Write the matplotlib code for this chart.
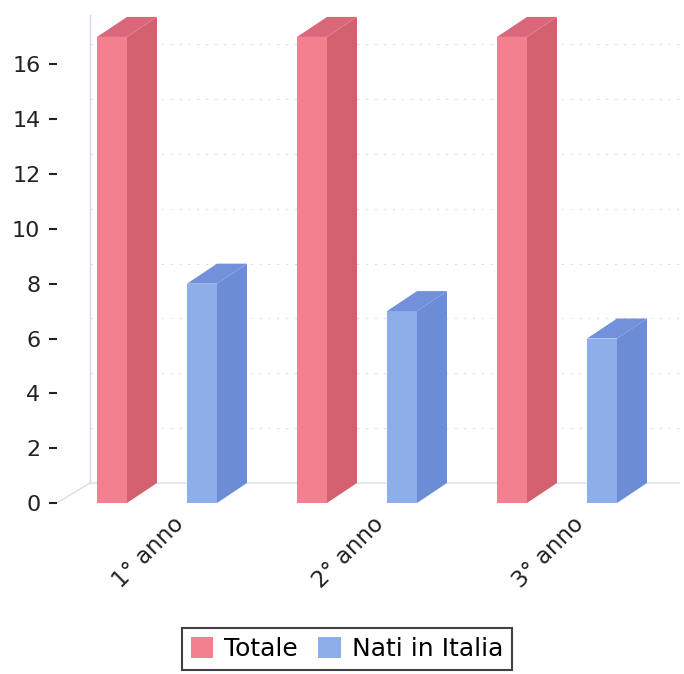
import matplotlib.pyplot as plt
from matplotlib.patches import Polygon

CATEGORIES = ["1° anno", "2° anno", "3° anno"]
SERIES = ["Totale", "Nati in Italia"]
TOTALE = [17, 17, 17]
NATI_IN_ITALIA = [8, 7, 6]

# front, side, top shades per series
COLORS = {
    "Totale": ("#f2808f", "#d3606f", "#d8687a"),
    "Nati in Italia": ("#8eaeea", "#6b8dd6", "#7291da"),
}

BAR_W = 0.15       # front face width (data units)
DEPTH_X = 0.15     # 3D depth offset, x
DEPTH_Y = 0.73     # 3D depth offset, y
OFFSETS = {"Totale": -0.375, "Nati in Italia": 0.075}  # left edge of front face rel. to group
XMIN, XMAX = -0.575, 2.54
YMAX = 17.8
WALL_X = XMIN + 0.165


def draw_bar(ax, x0, h, colors):
    front, side, top = colors
    x1 = x0 + BAR_W
    ax.add_patch(Polygon([(x0, 0), (x1, 0), (x1, h), (x0, h)], closed=True,
                         facecolor=front, edgecolor="none", zorder=3))
    ax.add_patch(Polygon([(x1, 0), (x1 + DEPTH_X, DEPTH_Y), (x1 + DEPTH_X, h + DEPTH_Y), (x1, h)],
                         closed=True, facecolor=side, edgecolor="none", zorder=3))
    ax.add_patch(Polygon([(x0, h), (x1, h), (x1 + DEPTH_X, h + DEPTH_Y), (x0 + DEPTH_X, h + DEPTH_Y)],
                         closed=True, facecolor=top, edgecolor="none", zorder=3))


def main() -> None:
    fig = plt.figure(figsize=(6.84, 6.74), dpi=100)
    ax = fig.add_axes([57 / 684, 1 - 503 / 674, (680 - 57) / 684, (503 - 15) / 674])

    # back wall grid and floor
    for y in range(2, 17, 2):
        ax.plot([WALL_X, XMAX], [y + DEPTH_Y, y + DEPTH_Y], color="#dcdce2", lw=0.8,
                ls=(0, (2, 6)), zorder=1)
    ax.plot([XMIN, WALL_X, XMAX], [0, DEPTH_Y, DEPTH_Y], color="#dcdcec", lw=1.0, zorder=1)
    ax.plot([WALL_X, WALL_X], [DEPTH_Y, YMAX], color="#d6d6ee", lw=1.0, zorder=1)

    values = {"Totale": TOTALE, "Nati in Italia": NATI_IN_ITALIA}
    for i in range(len(CATEGORIES)):
        for s in SERIES:
            draw_bar(ax, i + OFFSETS[s], values[s][i], COLORS[s])

    ax.set_xlim(XMIN, XMAX)
    ax.set_ylim(0, YMAX)
    for sp in ax.spines.values():
        sp.set_visible(False)
    ax.set_yticks(range(0, 17, 2))
    ax.tick_params(axis="y", length=6, width=1.5, color="#222222", pad=6, labelsize=16,
                   labelcolor="#222222")
    ax.set_xticks(range(len(CATEGORIES)))
    ax.set_xticklabels(CATEGORIES, rotation=45, ha="right", va="top", rotation_mode="anchor",
                       fontsize=16.5, color="#222222")
    ax.tick_params(axis="x", length=0, pad=7)

    handles = [plt.Rectangle((0, 0), 1, 1, facecolor=COLORS[s][0], edgecolor="none") for s in SERIES]
    leg = fig.legend(handles, SERIES, loc="center", bbox_to_anchor=(347 / 684, 1 - 649 / 674),
                     ncol=2, fontsize=18, frameon=True, fancybox=False, handlelength=0.9,
                     handleheight=0.9, handletextpad=0.45, columnspacing=0.8,
                     borderpad=0.35)
    leg.get_frame().set_edgecolor("#111111")
    leg.get_frame().set_linewidth(1.5)

    fig.savefig("out.png", dpi=100)


if __name__ == "__main__":
    main()
